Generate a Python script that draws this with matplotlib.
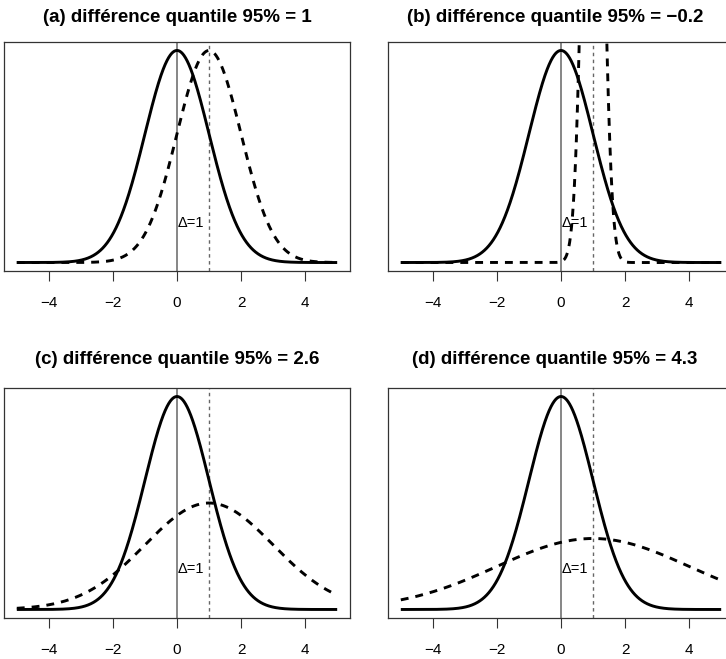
import numpy as np
import matplotlib
matplotlib.use("Agg")
import matplotlib.pyplot as plt

plt.rcParams['font.family'] = ['Liberation Sans', 'DejaVu Sans']

# Panel data: reference density N(0,1) vs. alternative N(mean, sd)
panel_letters = ["a", "b", "c", "d"]
quantile_diffs = ["1", "\u22120.2", "2.6", "4.3"]
alt_means = [1.0, 1.0, 1.0, 1.0]
alt_sds = [1.0, 0.27, 2.0, 3.0]
ref_mean, ref_sd = 0.0, 1.0
delta = 1.0
x_ticks = [-4, -2, 0, 2, 4]
x_tick_labels = ["\u22124", "\u22122", "0", "2", "4"]


def normal_pdf(x, m, s):
    return np.exp(-0.5 * ((x - m) / s) ** 2) / (s * np.sqrt(2 * np.pi))


W, H = 726, 659
fig = plt.figure(figsize=(W / 100, H / 100), dpi=100)

# panel boxes in pixel units: (left, top, right, bottom), title y
boxes = [(4, 42, 350, 271), (388, 42, 734, 271),
         (4, 388, 350, 618), (388, 388, 734, 618)]
title_y = [18, 18, 360, 360]

x = np.linspace(-5, 5, 1001)
ref = normal_pdf(x, ref_mean, ref_sd)
ymax = ref.max()

for i, (l, t, r, b) in enumerate(boxes):
    ax = fig.add_axes([l / W, 1 - b / H, (r - l) / W, (b - t) / H])
    alt = normal_pdf(x, alt_means[i], alt_sds[i])
    ax.axvline(0, color="#666666", lw=1.1, zorder=1)
    ax.axvline(delta, color="#666666", lw=1.0, dashes=(2.5, 2.5), zorder=1)
    ax.plot(x, ref, color="black", lw=2.1, solid_capstyle="butt", zorder=3)
    ax.plot(x, alt, color="black", lw=2.1, dashes=(2.7, 2.4), zorder=3)
    ax.text(delta - 0.14, 0.075, "\u0394=1", ha="right", va="center",
            fontsize=10.5, color="black", zorder=4)
    pad_x = 0.04 * 10
    ax.set_xlim(-5 - pad_x, 5 + pad_x)
    ax.set_ylim(-0.04 * ymax, ymax * 1.04)
    ax.set_yticks([])
    ax.set_xticks(x_ticks)
    ax.set_xticklabels(x_tick_labels, fontsize=11)
    ax.tick_params(axis="x", direction="out", length=7.5, width=0.8,
                   color="#333333", pad=10.5)
    for sp in ax.spines.values():
        sp.set_linewidth(0.9)
        sp.set_color("#333333")
    cx = (l + min(r, W + 8)) / 2
    fig.text(cx / W - (6 / W) * (i % 2), 1 - title_y[i] / H,
             f"({panel_letters[i]}) différence quantile 95% = {quantile_diffs[i]}",
             ha="center", va="center", fontsize=13.5, fontweight="bold")

fig.savefig("out.png", dpi=100)
